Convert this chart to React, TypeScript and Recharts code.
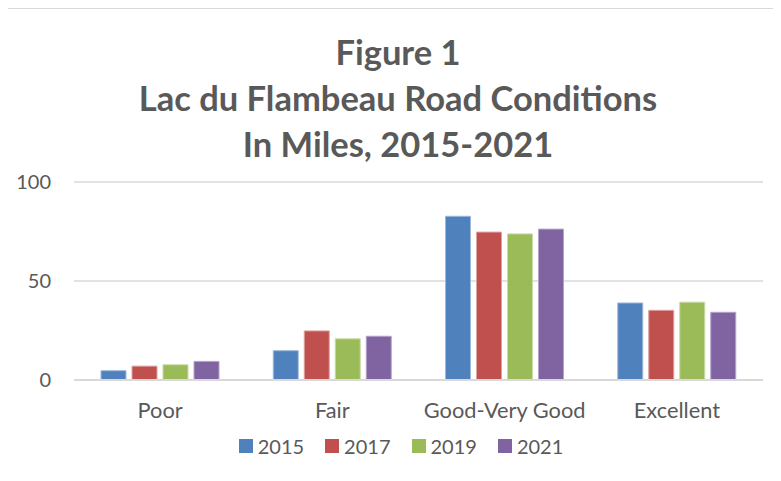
import React from 'react';
import { BarChart, Bar, XAxis, YAxis, CartesianGrid, Legend } from 'recharts';

const categories = ['Poor', 'Fair', 'Good-Very Good', 'Excellent'];
const years = ['2015', '2017', '2019', '2021'];
const miles2015 = [4.7, 14.8, 82.7, 38.9];
const miles2017 = [7.0, 24.8, 74.7, 35.2];
const miles2019 = [7.7, 20.8, 73.8, 39.3];
const miles2021 = [9.4, 22.1, 76.2, 34.2];
const yTicks = [0, 50, 100];
const titleLines = ['Figure 1', 'Lac du Flambeau Road Conditions', 'In Miles, 2015-2021'];

const colors = ['#4F81BD', '#C0504D', '#9BBB59', '#8064A2'];
const edges = ['#9DB9DC', '#DDA3A1', '#C9DBA6', '#B5A3CA'];
const textColor = '#595959';
const gridColor = '#D9D9D9';

const data = categories.map((name, i) => ({
  name,
  y2015: miles2015[i],
  y2017: miles2017[i],
  y2019: miles2019[i],
  y2021: miles2021[i],
}));
const keys = ['y2015', 'y2017', 'y2019', 'y2021'];

const renderLegend = (props: any) => {
  const { payload } = props;
  return (
    <div style={{ display: 'flex', justifyContent: 'center', alignItems: 'center', gap: 21 }}>
      {payload.map((entry: any) => (
        <span key={entry.value} style={{ display: 'flex', alignItems: 'center' }}>
          <span style={{ width: 14, height: 14, background: entry.color, marginRight: 5, display: 'inline-block' }} />
          <span style={{ fontSize: 20, color: textColor, fontFamily: 'Lato', lineHeight: '24px' }}>{entry.value}</span>
        </span>
      ))}
    </div>
  );
};

export default function App() {
  return (
    <div style={{ position: 'relative', width: 781, height: 481, margin: -8, overflow: 'hidden', background: '#fff', fontFamily: 'Lato' }}>
      <div style={{ position: 'absolute', left: 3, top: 8, width: 900, height: 600, border: `1.5px solid ${gridColor}` }} />
      <div style={{ position: 'absolute', left: 0, top: 0 }}>
        <BarChart
          width={781}
          height={481}
          data={data}
          margin={{ top: 182, right: 18, left: 14, bottom: 37 }}
          barGap={6}
          barCategoryGap={27}
        >
          <CartesianGrid horizontal vertical={false} stroke={gridColor} strokeWidth={1.5} />
          <XAxis
            dataKey="name"
            height={40}
            axisLine={{ stroke: gridColor, strokeWidth: 2 }}
            tickLine={false}
            tickSize={0}
            tickMargin={23}
            tick={{ fill: textColor, fontSize: 21.8, fontFamily: 'Lato' }}
            interval={0}
          />
          <YAxis
            width={60}
            domain={[0, 100]}
            ticks={yTicks}
            axisLine={false}
            tickLine={false}
            tickSize={0}
            tickMargin={23}
            tick={{ fill: textColor, fontSize: 20, fontFamily: 'Lato' }}
          />
          <Legend
            verticalAlign="bottom"
            content={renderLegend}
            wrapperStyle={{ left: 0, width: 802, bottom: 23 }}
          />
          {keys.map((k, i) => (
            <Bar
              key={k}
              dataKey={k}
              name={years[i]}
              fill={colors[i]}
              stroke={edges[i]}
              strokeWidth={1}
              isAnimationActive={false}
            />
          ))}
        </BarChart>
      </div>
      <svg width={781} height={481} style={{ position: 'absolute', left: 0, top: 0, pointerEvents: 'none' }}>
        {titleLines.map((line, i) => (
          <text
            key={line}
            x={398}
            y={65 + i * 46}
            textAnchor="middle"
            fill={textColor}
            fontSize={34.5}
            fontWeight="bold"
            fontFamily="Lato"
          >
            {line}
          </text>
        ))}
      </svg>
    </div>
  );
}
